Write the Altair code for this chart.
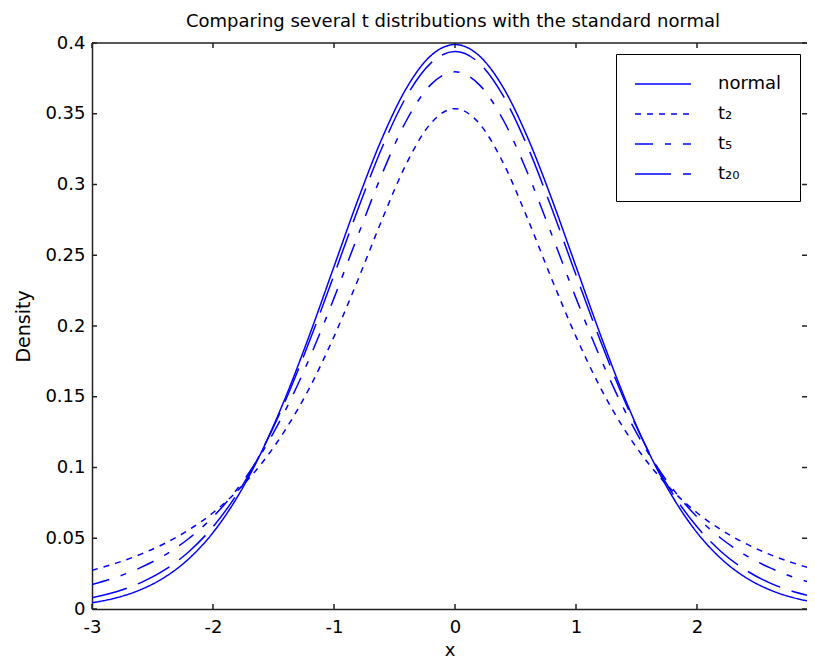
import altair as alt
import pandas as pd

# x positions of the sampled curve points
x_vals = [-3.0, -2.8, -2.6, -2.4, -2.2, -2.0, -1.8, -1.6, -1.4, -1.2, -1.0,
          -0.8, -0.6, -0.4, -0.2, 0.0, 0.2, 0.4, 0.6, 0.8, 1.0,
          1.2, 1.4, 1.6, 1.8, 2.0, 2.2, 2.4, 2.6, 2.8, 3.0]

normal_vals = [0.0044, 0.0079, 0.0136, 0.0224, 0.0355, 0.0540, 0.0790, 0.1109, 0.1497, 0.1942, 0.2420,
               0.2897, 0.3332, 0.3683, 0.3910, 0.3989, 0.3910, 0.3683, 0.3332, 0.2897, 0.2420,
               0.1942, 0.1497, 0.1109, 0.0790, 0.0540, 0.0355, 0.0224, 0.0136, 0.0079, 0.0044]

t2_vals = [0.0274, 0.0324, 0.0386, 0.0463, 0.0559, 0.0680, 0.0834, 0.1027, 0.1269, 0.1567, 0.1925,
           0.2331, 0.2758, 0.3150, 0.3432, 0.3536, 0.3432, 0.3150, 0.2758, 0.2331, 0.1925,
           0.1567, 0.1269, 0.1027, 0.0834, 0.0680, 0.0559, 0.0463, 0.0386, 0.0324, 0.0274]

t5_vals = [0.0173, 0.0224, 0.0292, 0.0381, 0.0498, 0.0651, 0.0848, 0.1098, 0.1407, 0.1777, 0.2197,
           0.2645, 0.3081, 0.3454, 0.3706, 0.3796, 0.3706, 0.3454, 0.3081, 0.2645, 0.2197,
           0.1777, 0.1407, 0.1098, 0.0848, 0.0651, 0.0498, 0.0381, 0.0292, 0.0224, 0.0173]

t20_vals = [0.0080, 0.0122, 0.0185, 0.0276, 0.0405, 0.0581, 0.0814, 0.1112, 0.1476, 0.1899, 0.2360,
            0.2830, 0.3267, 0.3624, 0.3858, 0.3940, 0.3858, 0.3624, 0.3267, 0.2830, 0.2360,
            0.1899, 0.1476, 0.1112, 0.0814, 0.0581, 0.0405, 0.0276, 0.0185, 0.0122, 0.0080]

series_names = ["normal", "t\u2082", "t\u2085", "t\u2082\u2080"]
dash_styles = [[1, 0], [6, 6], [18, 12, 6, 12], [36, 12]]

x_ticks = [-3, -2, -1, 0, 1, 2, 3]
y_ticks = [0, 0.05, 0.1, 0.15, 0.2, 0.25, 0.3, 0.35, 0.4]

title_text = "Comparing several t distributions with the standard normal"

rows = []
for name, vals in zip(series_names, [normal_vals, t2_vals, t5_vals, t20_vals]):
    for xv, yv in zip(x_vals, vals):
        rows.append({"x": xv, "density": yv, "series": name})
df = pd.DataFrame(rows)

W, H = 715, 566
FONT = "DejaVu Sans"
BLUE = "#0000ff"
AXC = "#222222"

# 121 px per x unit, as in the reference; the right edge is cut off by the window
xscale = alt.Scale(domain=[-3, -3 + W / 121.0], nice=False, zero=False)
yscale = alt.Scale(domain=[0, 0.4], nice=False, zero=False)

x_axis = alt.Axis(
    values=x_ticks, labelExpr="'' + datum.value", title="x",
    ticks=False, tickSize=0, grid=False, domainColor=AXC, domainWidth=1.5,
    labelPadding=9, labelFont=FONT, labelFontSize=18, labelColor="#000",
    labelOverlap=False, labelFlush=False,
    titleFont=FONT, titleFontSize=18, titleFontWeight="normal", titleColor="#000",
    titleBaseline="alphabetic", titleY=46)
y_axis = alt.Axis(
    values=y_ticks, labelExpr="'' + datum.value", title="Density",
    ticks=False, tickSize=0, grid=False, domainColor=AXC, domainWidth=1.5,
    labelPadding=7, labelFont=FONT, labelFontSize=18, labelColor="#000",
    labelOverlap=False, labelFlush=False,
    titleFont=FONT, titleFontSize=19, titleFontWeight="normal", titleColor="#000",
    titleAngle=270, titleBaseline="alphabetic", titleAlign="center",
    titleX=-63, titleY=H / 2)

lines = alt.Chart(df).mark_line(
    color=BLUE, strokeWidth=1.5, clip=True, interpolate="monotone"
).encode(
    x=alt.X("x:Q", scale=xscale, axis=x_axis),
    y=alt.Y("density:Q", scale=yscale, axis=y_axis),
    strokeDash=alt.StrokeDash("series:N", sort=series_names,
        scale=alt.Scale(domain=series_names, range=dash_styles),
        legend=alt.Legend(
            title=None, orient="none", legendX=524, legendY=11,
            symbolType="M-1,0H4.09", symbolSize=484,
            symbolStrokeColor=BLUE, symbolStrokeWidth=1.5,
            labelFont=FONT, labelFontSize=18, labelColor="#000",
            labelOffset=60, rowPadding=9, padding=18,
            strokeColor="#000", fillColor="#ffffff")),
    detail="series:N",
)

ytick_df = pd.DataFrame({"x": [0.0] * len(y_ticks), "density": y_ticks})
xtick_df = pd.DataFrame({"x": x_ticks, "density": [0.0] * len(x_ticks)})

left_ticks = alt.Chart(ytick_df).mark_rule(color=AXC, strokeWidth=1.5).encode(
    y=alt.Y("density:Q", scale=yscale, axis=y_axis), x=alt.value(0), x2=alt.value(5))
right_ticks = alt.Chart(ytick_df).mark_rule(color=AXC, strokeWidth=1.5).encode(
    y=alt.Y("density:Q", scale=yscale, axis=y_axis), x=alt.value(W - 5), x2=alt.value(W))
bottom_ticks = alt.Chart(xtick_df).mark_rule(color=AXC, strokeWidth=1.5).encode(
    x=alt.X("x:Q", scale=xscale, axis=x_axis), y=alt.value(H), y2=alt.value(H - 5))
top_ticks = alt.Chart(xtick_df).mark_rule(color=AXC, strokeWidth=1.5).encode(
    x=alt.X("x:Q", scale=xscale, axis=x_axis), y=alt.value(0), y2=alt.value(5))
top_border = alt.Chart(pd.DataFrame({"a": [0]})).mark_rule(color=AXC, strokeWidth=1.5).encode(
    x=alt.value(0), x2=alt.value(W), y=alt.value(0))

title_mark = alt.Chart(pd.DataFrame({"t": [title_text]})).mark_text(
    font=FONT, fontSize=18, color="#000", align="center", baseline="alphabetic"
).encode(text="t:N", x=alt.value(361), y=alt.value(-16))

chart = alt.layer(
    lines, left_ticks, right_ticks, bottom_ticks, top_ticks, top_border, title_mark
).properties(
    width=W, height=H,
    autosize=alt.AutoSizeParams(type="none"),
    padding={"left": 84, "top": 35, "right": 0, "bottom": 51},
).configure_view(stroke=None)

chart.save("out.html", embed_options={"renderer": "svg", "actions": False})
